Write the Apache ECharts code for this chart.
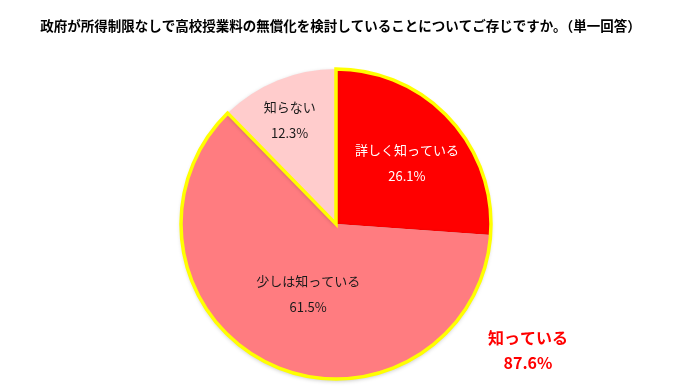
<!DOCTYPE html>
<html><head><meta charset="utf-8">
<script src="https://cdn.jsdelivr.net/npm/echarts@6/dist/echarts.min.js"></script>
<style>html,body{margin:0;padding:0;background:#fff}#c{width:681px;height:390px}</style>
</head><body><div id="c"></div>
<script>
const titleText = '政府が所得制限なしで高校授業料の無償化を検討していることについてご存じですか。（単一回答）';
const categories = ['詳しく知っている', '少しは知っている', '知らない'];
const values = [26.1, 61.5, 12.3];
const colors = ['#FF0000', '#FF7C80', '#FFCCCC'];
const labelColors = ['#FFFFFF', '#1a1a1a', '#1a1a1a'];
const labelOffsets = [[12, -6], [6, -3], [-16, -29]];
const groupName = '知っている';
const groupValue = +(values[0] + values[1]).toFixed(1);

const font = '"Noto Sans CJK JP", "Noto Sans", sans-serif';
const chart = echarts.init(document.getElementById('c'));
const center = [336, 224];
const radius = 155;

chart.setOption({
  animation: false,
  backgroundColor: '#fff',
  title: [{
    text: titleText, left: 'center', top: 14,
    textStyle: {fontFamily: font, fontSize: 13.5, fontWeight: 'bold', color: '#000'}
  }, {
    text: groupName + '\n' + groupValue.toFixed(1) + '%',
    left: 523, top: 320, textAlign: 'center',
    textStyle: {fontFamily: font, fontSize: 16, fontWeight: 'bold', color: '#FF0000', lineHeight: 25}
  }],
  series: [{
    type: 'pie', center: center, radius: radius, startAngle: 90, clockwise: true,
    silent: true,
    label: {show: true, position: 'inside', fontFamily: font, fontSize: 13, lineHeight: 26,
      formatter: p => p.name + '\n' + p.value.toFixed(1) + '%'},
    labelLine: {show: false},
    itemStyle: {borderWidth: 0, shadowColor: 'rgba(0,0,0,0.25)', shadowBlur: 4, shadowOffsetY: 2},
    data: categories.map((c, i) => ({
      name: c, value: values[i],
      itemStyle: {color: colors[i]},
      label: {color: labelColors[i], offset: labelOffsets[i]}
    }))
  }, {
    type: 'pie', center: center, radius: radius, startAngle: 90, clockwise: true,
    silent: true, z: 5,
    label: {show: false}, labelLine: {show: false},
    data: [
      {name: groupName, value: groupValue, itemStyle: {color: 'rgba(0,0,0,0)', borderColor: '#FFFF00', borderWidth: 3.5, borderJoin: 'miter'}},
      {name: categories[2], value: values[2], itemStyle: {color: 'rgba(0,0,0,0)', borderWidth: 0}}
    ]
  }]
});
</script></body></html>
